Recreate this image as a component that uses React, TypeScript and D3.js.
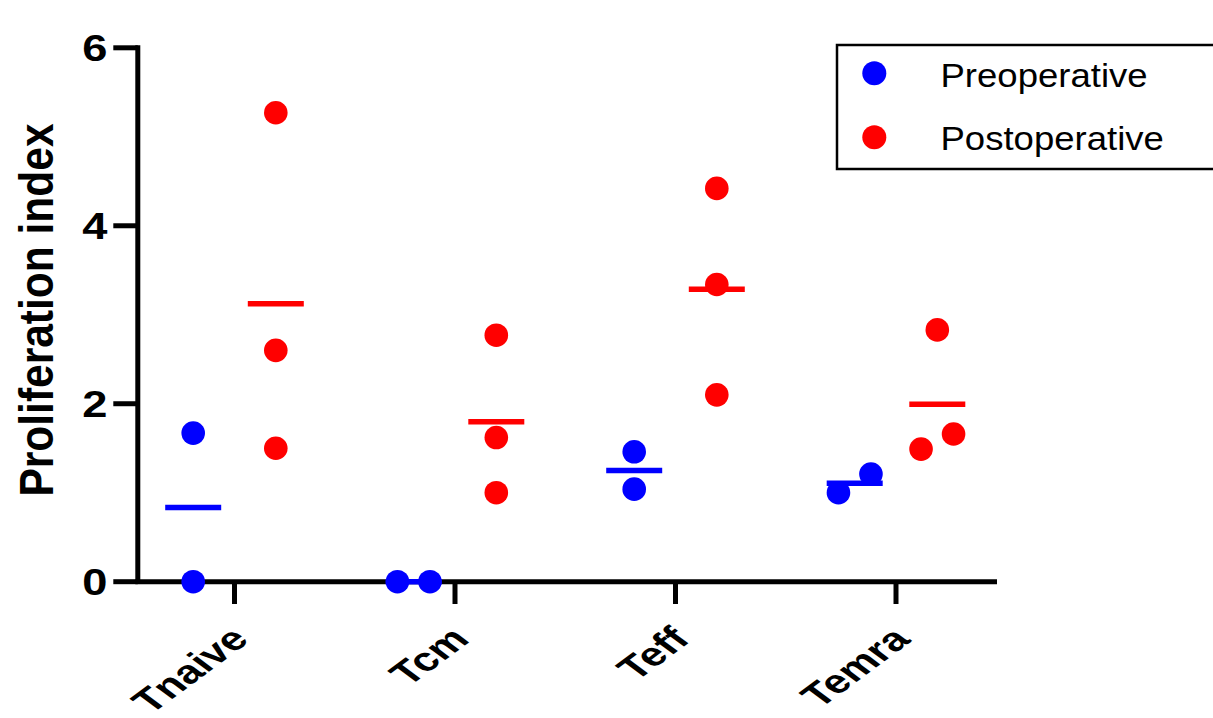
import React from "react";
import * as d3 from "d3";

const categories = ["Tnaive", "Tcm", "Teff", "Temra"];
const seriesNames = ["Preoperative", "Postoperative"];
const seriesColors = ["#0000FF", "#FF0000"];
const preoperative = [
  [1.67, 0],
  [0, 0],
  [1.46, 1.04],
  [1.0, 1.21],
];
const postoperative = [
  [5.27, 2.6, 1.5],
  [2.77, 1.62, 1.0],
  [4.42, 3.34, 2.1],
  [2.83, 1.49, 1.66],
];
const yTicks = [0, 2, 4, 6];
const yTitle = "Proliferation index";

const W = 1213;
const H = 718;
const FONT = "'Liberation Sans', Arial, Helvetica, sans-serif";

export default function App() {
  const y = d3.scaleLinear().domain([0, 6]).range([581.7, 47.8]);
  const x = d3.scaleBand().domain(categories).range([124.25, 1006.25]).padding(0);
  const sub = d3.scalePoint().domain(seriesNames).range([-41.3, 41.3]);
  const axisX0 = 137.8;
  const r = 11.8;
  const spread = 32.5;
  const sw = 5;

  const seriesData = [preoperative, postoperative];

  // simple clustering jitter: points closer than a diameter are spread sideways
  function jitter(vals: number[]) {
    const idx = vals.map((v, i) => i).sort((a, b) => vals[a] - vals[b]);
    const offs = new Array(vals.length).fill(0);
    let cluster: number[] = [];
    const flush = () => {
      const n = cluster.length;
      cluster.forEach((k, j) => {
        offs[k] = (j - (n - 1) / 2) * spread;
      });
      cluster = [];
    };
    idx.forEach((k) => {
      if (cluster.length === 0) cluster.push(k);
      else {
        const last = cluster[cluster.length - 1];
        if (Math.abs(y(vals[k]) - y(vals[last])) < 2 * r) cluster.push(k);
        else {
          flush();
          cluster.push(k);
        }
      }
    });
    flush();
    return offs;
  }

  const bw = x.bandwidth();

  return (
    <svg
      width={W}
      height={H}
      style={{ position: "absolute", left: 0, top: 0, background: "#fff" }}
      fontFamily={FONT}
    >
      <rect width={W} height={H} fill="#fff" />
      {/* Y axis */}
      <line x1={axisX0} x2={axisX0} y1={y(6) - sw / 2} y2={y(0)} stroke="#000" strokeWidth={sw} />
      {yTicks.map((t) => (
        <g key={t}>
          <line x1={113.3} x2={axisX0} y1={y(t)} y2={y(t)} stroke="#000" strokeWidth={sw} />
          <text
            transform={`translate(107.5,${y(t)}) scale(1.24,1)`}
            dy="0.36em"
            textAnchor="end"
            fontSize={36.5}
            fontWeight="bold"
            fill="#000"
          >
            {t}
          </text>
        </g>
      ))}
      {/* X axis */}
      <line x1={axisX0 - sw / 2} x2={997} y1={y(0)} y2={y(0)} stroke="#000" strokeWidth={sw} />
      {categories.map((c) => {
        const cx = (x(c) as number) + bw / 2;
        return (
          <g key={c}>
            <line x1={cx} x2={cx} y1={y(0)} y2={604} stroke="#000" strokeWidth={sw} />
            <text
              transform={`translate(${cx + 16},641) scale(1.35,1) rotate(-45)`}
              textAnchor="end"
              fontSize={33}
              fontWeight="bold"
              fill="#000"
            >
              {c}
            </text>
          </g>
        );
      })}
      {/* Y title */}
      <text
        transform={`translate(53,310) scale(1.12,1) rotate(-90)`}
        textAnchor="middle"
        fontSize={42.5}
        fontWeight="bold"
        fill="#000"
      >
        {yTitle}
      </text>
      {/* data */}
      {categories.map((c, ci) => {
        const cx = (x(c) as number) + bw / 2;
        return seriesNames.map((s, si) => {
          const vals = seriesData[si][ci];
          const gx = cx + (sub(s) as number);
          const offs = jitter(vals);
          const m = d3.mean(vals) as number;
          return (
            <g key={c + s}>
              {vals.map((v, k) => (
                <circle key={k} cx={gx + offs[k]} cy={y(v)} r={r} fill={seriesColors[si]} />
              ))}
              <line
                x1={gx - 28}
                x2={gx + 28}
                y1={y(m)}
                y2={y(m)}
                stroke={seriesColors[si]}
                strokeWidth={5.5}
              />
            </g>
          );
        });
      })}
      {/* Legend */}
      <rect x={837} y={45} width={420} height={124} fill="#fff" stroke="#000" strokeWidth={2.5} />
      {seriesNames.map((s, i) => (
        <g key={s}>
          <circle cx={874.3} cy={73.3 + i * 64} r={12} fill={seriesColors[i]} />
          <text
            transform={`translate(940.5,${86.7 + i * 63.5}) scale(1.075,1)`}
            fontSize={34}
            fill="#000"
          >
            {s}
          </text>
        </g>
      ))}
    </svg>
  );
}
